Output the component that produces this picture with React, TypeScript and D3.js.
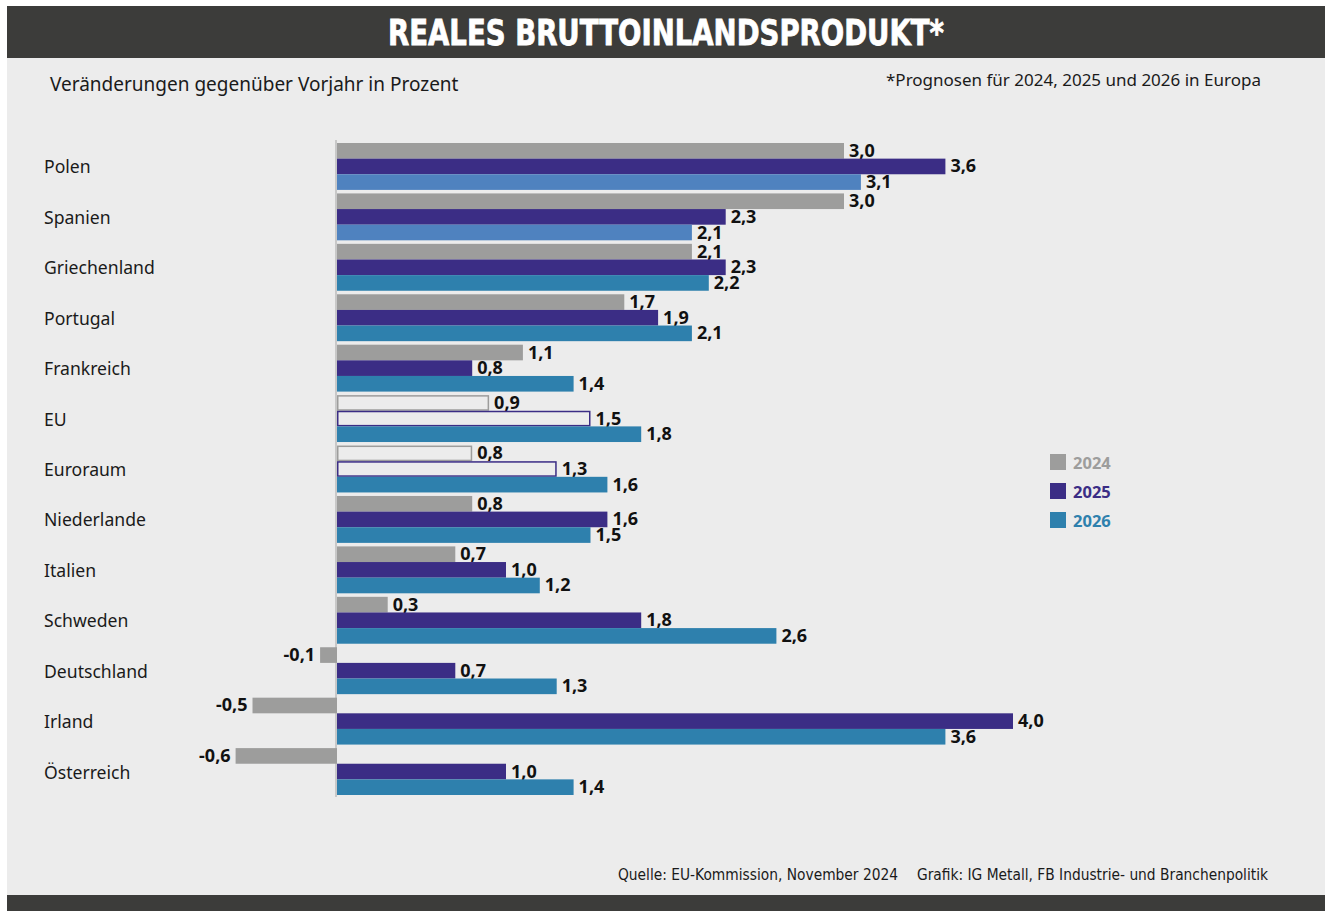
import React from "react";
import * as d3 from "d3";

const countries = [
  "Polen",
  "Spanien",
  "Griechenland",
  "Portugal",
  "Frankreich",
  "EU",
  "Euroraum",
  "Niederlande",
  "Italien",
  "Schweden",
  "Deutschland",
  "Irland",
  "Österreich",
];
const years = ["2024", "2025", "2026"];
const values2024 = [3.0, 3.0, 2.1, 1.7, 1.1, 0.9, 0.8, 0.8, 0.7, 0.3, -0.1, -0.5, -0.6];
const values2025 = [3.6, 2.3, 2.3, 1.9, 0.8, 1.5, 1.3, 1.6, 1.0, 1.8, 0.7, 4.0, 1.0];
const values2026 = [3.1, 2.1, 2.2, 2.1, 1.4, 1.8, 1.6, 1.5, 1.2, 2.6, 1.3, 3.6, 1.4];
// aggregates drawn as outlines for 2024/2025
const outlined = ["EU", "Euroraum"];
// 2026 bars in the lighter blue
const lighter2026 = ["Polen", "Spanien"];

const W = 1325;
const H = 911;
const colors: Record<string, string> = {
  "2024": "#9d9d9c",
  "2025": "#3b2d85",
  "2026": "#2e80ad",
};
const lightBlue = "#4f82bf";
const bg = "#ececec";
const dark = "#3c3c3a";
const font = "'Noto Sans', 'Open Sans', sans-serif";
const narrow = "'Liberation Sans Narrow', 'DejaVu Sans Condensed', sans-serif";

const fmt = (v: number) => d3.format(".1f")(v).replace(".", ",").replace("−", "-");

export default function App() {
  const series = [values2024, values2025, values2026];

  const x = d3.scaleLinear().domain([0, 4]).range([337, 1013]);
  const y = d3
    .scaleBand<string>()
    .domain(countries)
    .range([143, 795])
    .paddingInner(0.07)
    .paddingOuter(0);
  const inner = d3
    .scaleBand<string>()
    .domain(years)
    .range([0, y.bandwidth()]);

  return (
    <div style={{ position: "absolute", left: 0, top: 0 }}>
      <svg width={W} height={H} style={{ display: "block" }}>
        <rect x={0} y={0} width={W} height={H} fill="#ffffff" />
        <rect x={7} y={58} width={W - 7} height={837} fill={bg} />
        <rect x={7} y={6} width={W - 7} height={52} fill={dark} />
        <rect x={7} y={895} width={W - 7} height={16} fill={dark} />

        <text
          x={666}
          y={45}
          textAnchor="middle"
          fill="#ffffff"
          fontFamily={narrow}
          fontWeight="bold"
          fontSize={36}
          textLength={556}
          lengthAdjust="spacingAndGlyphs"
          stroke="#ffffff"
          strokeWidth={0.8}
        >
          REALES BRUTTOINLANDSPRODUKT*
        </text>

        <text x={50} y={91} fontFamily={font} fontSize={19} fill="#1a1a1a">
          Veränderungen gegenüber Vorjahr in Prozent
        </text>
        <text x={886} y={86} fontFamily={font} fontSize={17} fill="#1a1a1a">
          *Prognosen für 2024, 2025 und 2026 in Europa
        </text>

        {/* zero axis */}
        <line
          x1={x(0) - 1}
          x2={x(0) - 1}
          y1={140}
          y2={797}
          stroke="#c8c8c8"
          strokeWidth={2}
        />

        {countries.map((c, i) => {
          const gy = y(c)!;
          return (
            <g key={c}>
              <text
                x={44}
                y={gy + y.bandwidth() / 2}
                dominantBaseline="central"
                fontFamily={font}
                fontSize={17.6}
                fill="#1a1a1a"
              >
                {c}
              </text>
              {years.map((yr, k) => {
                const v = series[k][i];
                const by = gy + inner(yr)!;
                const bh = inner.bandwidth();
                const x0 = x(Math.min(0, v));
                const x1 = x(Math.max(0, v));
                const isOutline = outlined.includes(c) && yr !== "2026";
                let fill = colors[yr];
                if (yr === "2026" && lighter2026.includes(c)) fill = lightBlue;
                const labelX = v < 0 ? x0 - 5 : x1 + 5;
                return (
                  <g key={yr}>
                    {isOutline ? (
                      <rect
                        x={x0 + 0.75}
                        y={by + 0.75}
                        width={x1 - x0 - 1.5}
                        height={bh - 1.5}
                        fill="none"
                        stroke={fill}
                        strokeWidth={1.5}
                      />
                    ) : (
                      <rect x={x0} y={by} width={x1 - x0} height={bh} fill={fill} />
                    )}
                    <text
                      x={labelX}
                      y={by + bh / 2 - 1}
                      dominantBaseline="central"
                      textAnchor={v < 0 ? "end" : "start"}
                      fontFamily={font}
                      fontWeight="bold"
                      fontSize={18}
                      fill="#111111"
                    >
                      {fmt(v)}
                    </text>
                  </g>
                );
              })}
            </g>
          );
        })}

        {/* legend */}
        {years.map((yr, k) => (
          <g key={yr} transform={`translate(1050, ${454 + k * 29})`}>
            <rect width={16} height={16} fill={colors[yr]} />
            <text
              x={23}
              y={8}
              dominantBaseline="central"
              fontFamily={font}
              fontWeight="bold"
              fontSize={16.5}
              fill={colors[yr]}
            >
              {yr}
            </text>
          </g>
        ))}

        <text
          x={618}
          y={880}
          fontFamily={narrow}
          fontSize={15.5}
          fill="#1a1a1a"
          textLength={280}
          lengthAdjust="spacingAndGlyphs"
        >
          Quelle: EU-Kommission, November 2024
        </text>
        <text
          x={917}
          y={880}
          fontFamily={narrow}
          fontSize={15.5}
          fill="#1a1a1a"
          textLength={351}
          lengthAdjust="spacingAndGlyphs"
        >
          Grafik: IG Metall, FB Industrie- und Branchenpolitik
        </text>
      </svg>
    </div>
  );
}
